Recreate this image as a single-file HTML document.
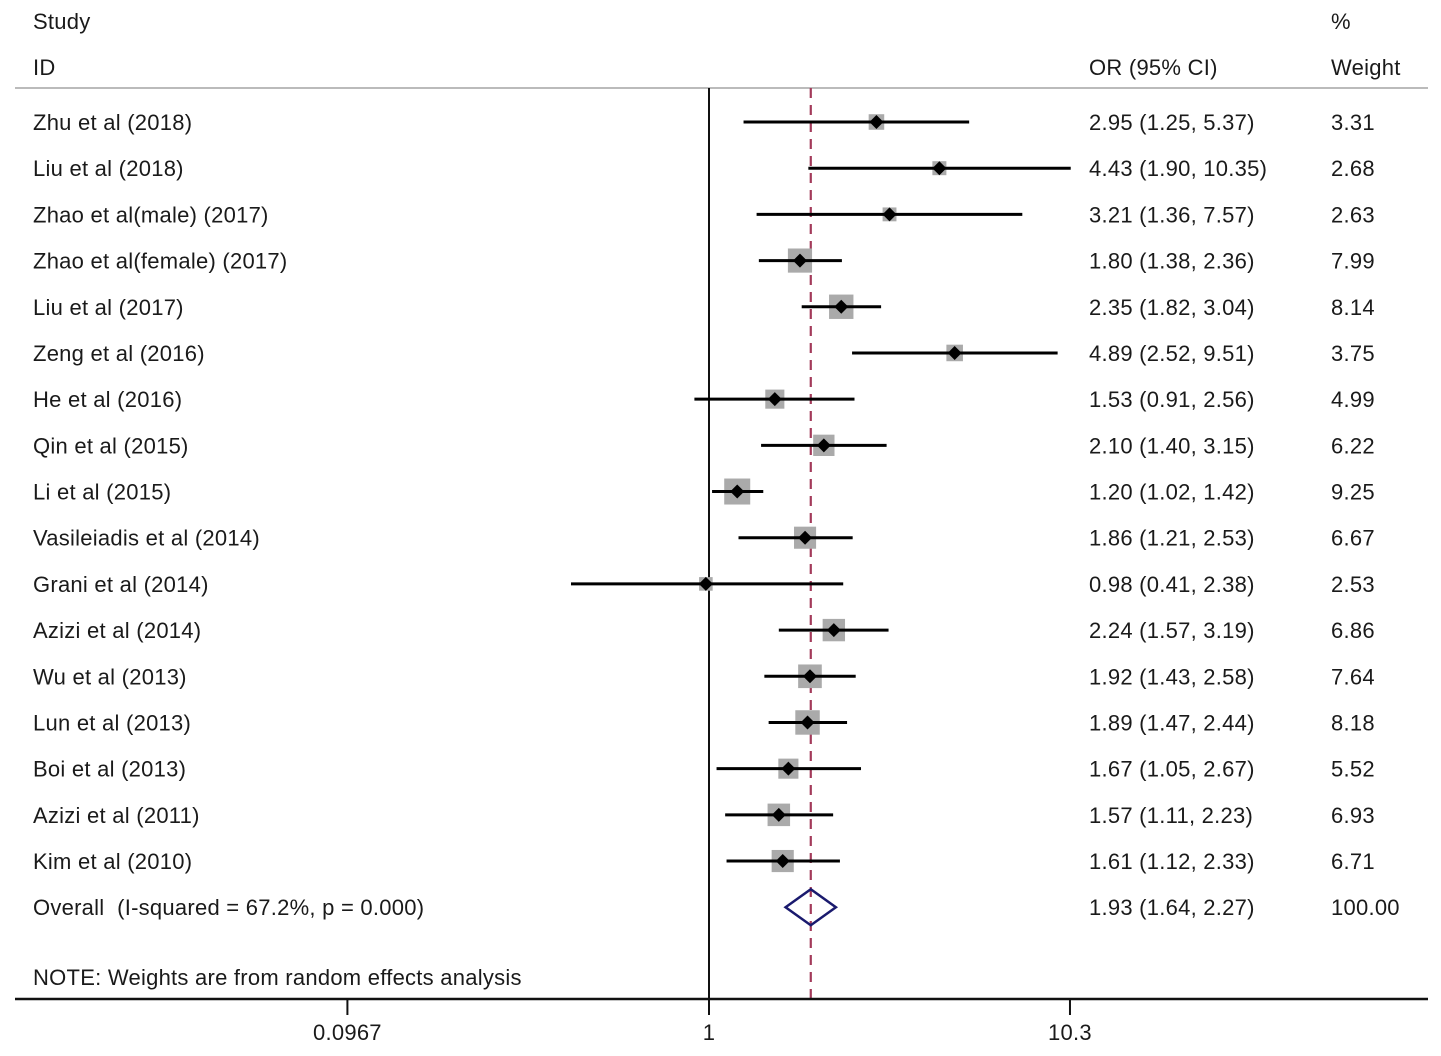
<!DOCTYPE html>
<html><head><meta charset="utf-8"><style>
html,body{margin:0;padding:0;background:#fff;}
svg{display:block;}
text{font-family:"Liberation Sans",Arial,sans-serif;font-size:22px;letter-spacing:0.25px;fill:#1a1a1a;}
</style></head><body>
<svg id="chart" width="1441" height="1056" viewBox="0 0 1441 1056" xmlns="http://www.w3.org/2000/svg">
<text x="33" y="29">Study</text>
<text x="33" y="75">ID</text>
<text x="1089" y="75">OR (95% CI)</text>
<text x="1331" y="29">%</text>
<text x="1331" y="75">Weight</text>
<line x1="15" y1="88" x2="1428" y2="88" stroke="#bbb" stroke-width="2"/>
<g id="marks"></g>
<text x="33" y="985">NOTE: Weights are from random effects analysis</text>
</svg>
<script>
const studies=["Zhu et al (2018)","Liu et al (2018)","Zhao et al(male) (2017)","Zhao et al(female) (2017)","Liu et al (2017)","Zeng et al (2016)","He et al (2016)","Qin et al (2015)","Li et al (2015)","Vasileiadis et al (2014)","Grani et al (2014)","Azizi et al (2014)","Wu et al (2013)","Lun et al (2013)","Boi et al (2013)","Azizi et al (2011)","Kim et al (2010)"];
const orVals=[2.95,4.43,3.21,1.80,2.35,4.89,1.53,2.10,1.20,1.86,0.98,2.24,1.92,1.89,1.67,1.57,1.61];
const lowVals=[1.25,1.90,1.36,1.38,1.82,2.52,0.91,1.40,1.02,1.21,0.41,1.57,1.43,1.47,1.05,1.11,1.12];
const highVals=[5.37,10.35,7.57,2.36,3.04,9.51,2.56,3.15,1.42,2.53,2.38,3.19,2.58,2.44,2.67,2.23,2.33];
const weights=[3.31,2.68,2.63,7.99,8.14,3.75,4.99,6.22,9.25,6.67,2.53,6.86,7.64,8.18,5.52,6.93,6.71];
const overall=[1.93,1.64,2.27];
const overallLabel="Overall  (I-squared = 67.2%, p = 0.000)";
const tickVals=[0.0967,1,10.3];
const tickLabels=["0.0967","1","10.3"];

const NS="http://www.w3.org/2000/svg";
const g=document.getElementById('marks');
const X=v=>709+356.4*Math.log10(v);
const Y=i=>122+46.19*i;
function mk(tag,attrs,parent){const e=document.createElementNS(NS,tag);for(const k in attrs)e.setAttribute(k,attrs[k]);(parent||g).appendChild(e);return e;}
const fmt=v=>v.toFixed(2);

let e=mk('line',{x1:709,y1:88,x2:709,y2:999,stroke:'#111','stroke-width':2});


e=mk('line',{x1:X(overall[0]),y1:88,x2:X(overall[0]),y2:999,stroke:'#a33a5a','stroke-width':2.2,'stroke-dasharray':'10 7'});



studies.forEach((s,i)=>{
  const y=Y(i);
  const side=8.55*Math.sqrt(weights[i]);
  let r=mk('rect',{x:X(orVals[i])-side/2,y:y-side/2,width:side,height:side,fill:'#aaa'});
  
  
  let l=mk('line',{x1:X(lowVals[i]),y1:y,x2:X(highVals[i]),y2:y,stroke:'#000','stroke-width':3});
  
  
  const cx=X(orVals[i]);
  let p=mk('polygon',{points:`${cx},${y-7} ${cx+7},${y} ${cx},${y+7} ${cx-7},${y}`,fill:'#000'});
  
  
  let t=mk('text',{x:33,y:y+8});t.textContent=s;
  
  
  t=mk('text',{x:1089,y:y+8});t.textContent=`${fmt(orVals[i])} (${fmt(lowVals[i])}, ${fmt(highVals[i])})`;
  
  
  t=mk('text',{x:1331,y:y+8});t.textContent=fmt(weights[i]);
  
  
});

const oy=Y(studies.length);
let d=mk('polygon',{points:`${X(overall[1])},${oy} ${X(overall[0])},${oy-18} ${X(overall[2])},${oy} ${X(overall[0])},${oy+18}`,fill:'none',stroke:'#1a1a6e','stroke-width':2.5});


let t=mk('text',{x:33,y:oy+8});t.textContent=overallLabel;t.style.whiteSpace='pre';


t=mk('text',{x:1089,y:oy+8});t.textContent=`${fmt(overall[0])} (${fmt(overall[1])}, ${fmt(overall[2])})`;


t=mk('text',{x:1331,y:oy+8});t.textContent="100.00";



let ax=mk('line',{x1:15,y1:999,x2:1428,y2:999,stroke:'#111','stroke-width':2.5});


tickVals.forEach((v,i)=>{
  let tk=mk('line',{x1:X(v),y1:999,x2:X(v),y2:1015,stroke:'#111','stroke-width':2});
  
  
  let tl=mk('text',{x:X(v),y:1040,'text-anchor':'middle'});tl.textContent=tickLabels[i];
  
  
});
</script>
</body></html>
